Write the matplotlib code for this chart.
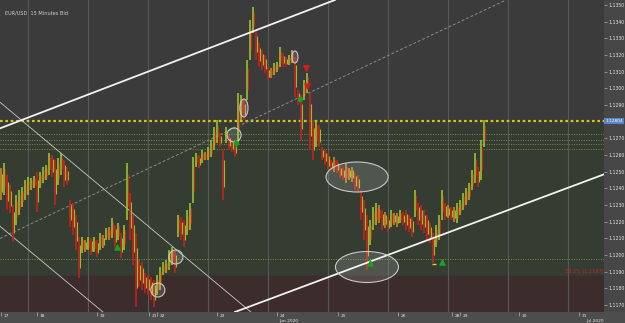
import matplotlib
matplotlib.use("Agg")
import matplotlib.pyplot as plt
import numpy as np
from matplotlib.patches import Ellipse

# bar highs / lows (EUR/USD, 15 min), one entry per plotted bar
highs = [
    1.12522, 1.12552, 1.12480, 1.12420, 1.12300, 1.12360, 1.12390, 1.12408, 1.12450, 1.12468,
    1.12462, 1.12474, 1.12498, 1.12498, 1.12528, 1.12540, 1.12612, 1.12600, 1.12570, 1.12582,
    1.12612, 1.12570, 1.12528, 1.12330, 1.12312, 1.12240, 1.12108, 1.12108, 1.12090, 1.12108,
    1.12102, 1.12108, 1.12090, 1.12132, 1.12120, 1.12162, 1.12168, 1.12222, 1.12180, 1.12192,
    1.12132, 1.12180, 1.12552, 1.12372, 1.12240, 1.12132, 1.11970, 1.11958, 1.11892, 1.11880,
    1.11868, 1.11850, 1.11880, 1.11928, 1.11958, 1.11970, 1.12030, 1.12048, 1.12030, 1.12240,
    1.12228, 1.12210, 1.12270, 1.12312, 1.12588, 1.12612, 1.12600, 1.12630, 1.12618, 1.12648,
    1.12690, 1.12768, 1.12810, 1.12732, 1.12630, 1.12768, 1.12720, 1.12690, 1.12672, 1.12972,
    1.12960, 1.12930, 1.13170, 1.13410, 1.13488, 1.13350, 1.13272, 1.13230, 1.13200, 1.13128,
    1.13122, 1.13152, 1.13158, 1.13248, 1.13212, 1.13188, 1.13200, 1.13230, 1.13188, 1.12990,
    1.12960, 1.13050, 1.13092, 1.12972, 1.12810, 1.12810, 1.12780, 1.12648, 1.12630, 1.12612,
    1.12570, 1.12588, 1.12570, 1.12540, 1.12528, 1.12552, 1.12522, 1.12528, 1.12492, 1.12480,
    1.12390, 1.12330, 1.12240, 1.12210, 1.12288, 1.12312, 1.12300, 1.12270, 1.12258, 1.12228,
    1.12270, 1.12252, 1.12252, 1.12270, 1.12258, 1.12270, 1.12240, 1.12228, 1.12390, 1.12312,
    1.12300, 1.12270, 1.12240, 1.12192, 1.12132, 1.12180, 1.12240, 1.12390, 1.12312, 1.12300,
    1.12288, 1.12288, 1.12312, 1.12330, 1.12372, 1.12402, 1.12432, 1.12510, 1.12612, 1.12528,
    1.12690, 1.12810,
]
lows = [
    1.12330, 1.12360, 1.12270, 1.12252, 1.12078, 1.12180, 1.12240, 1.12288, 1.12330, 1.12360,
    1.12390, 1.12402, 1.12258, 1.12402, 1.12432, 1.12450, 1.12480, 1.12468, 1.12300, 1.12420,
    1.12480, 1.12408, 1.12420, 1.12168, 1.12120, 1.12030, 1.11862, 1.12012, 1.12018, 1.12030,
    1.12000, 1.12018, 1.11988, 1.12030, 1.12042, 1.12090, 1.12090, 1.12102, 1.12048, 1.12090,
    1.11982, 1.12030, 1.12210, 1.12090, 1.11940, 1.11688, 1.11808, 1.11790, 1.11772, 1.11760,
    1.11730, 1.11688, 1.11760, 1.11790, 1.11880, 1.11892, 1.11910, 1.11940, 1.11892, 1.12108,
    1.12090, 1.12048, 1.12120, 1.12150, 1.12312, 1.12528, 1.12522, 1.12552, 1.12570, 1.12570,
    1.12588, 1.12630, 1.12672, 1.12648, 1.12330, 1.12672, 1.12630, 1.12618, 1.12588, 1.12672,
    1.12810, 1.12810, 1.12930, 1.13170, 1.13332, 1.13170, 1.13128, 1.13110, 1.13092, 1.13050,
    1.13062, 1.13080, 1.13098, 1.13128, 1.13128, 1.13128, 1.13140, 1.13152, 1.12948, 1.12900,
    1.12690, 1.12930, 1.12972, 1.12630, 1.12570, 1.12648, 1.12648, 1.12570, 1.12540, 1.12510,
    1.12510, 1.12498, 1.12492, 1.12462, 1.12450, 1.12432, 1.12450, 1.12438, 1.12390, 1.12372,
    1.12210, 1.12090, 1.11910, 1.12060, 1.12150, 1.12180, 1.12192, 1.12150, 1.12162, 1.12138,
    1.12168, 1.12180, 1.12168, 1.12192, 1.12180, 1.12150, 1.12138, 1.12108, 1.12228, 1.12180,
    1.12150, 1.12132, 1.12090, 1.12072, 1.11952, 1.12048, 1.12090, 1.12210, 1.12210, 1.12222,
    1.12210, 1.12198, 1.12192, 1.12240, 1.12270, 1.12300, 1.12330, 1.12390, 1.12432, 1.12408,
    1.12450, 1.12648,
]

price_ticks = [1.1350, 1.1340, 1.1330, 1.1320, 1.1310, 1.1300, 1.1290, 1.1270, 1.1260,
               1.1250, 1.1240, 1.1230, 1.1220, 1.1210, 1.1200, 1.1190, 1.1180, 1.1170]
date_pos = [0, 12, 32, 49.3, 52, 72, 92, 112.3, 132.3, 150.3, 153, 172.7, 192.7]
date_labels = ["17", "18", "19", "21", "22", "23", "24", "25", "26", "28", "29", "30", "31"]
month_pos = [92.7, 195.0]
month_labels = ["Jun 2020", "Jul 2020"]

last_price = 1.12804
fib_lines = [1.12726, 1.12690, 1.12666, 1.12636, 1.11976]
zone_top = 1.1279
fib_382 = 1.11874

# trend lines, each given by two points (bar index, price)
white_lines = [((0, 1.12762), (111.3, 1.1353)), ((78, 1.11658), (201.3, 1.12486))]
channel_lines = [((0, 1.12912), (83.3, 1.11658)), ((0, 1.12168), (34, 1.11658))]
dashed_line = ((0, 1.12102), (116.7, 1.13092))

# highlight ellipses: centre x, centre price, width (bars), height (price)
marks = [
    (52.3, 1.11790, 4.7, 0.00084), (58.3, 1.11988, 4.7, 0.00084),
    (77.7, 1.12720, 4.7, 0.00084), (81.0, 1.12882, 2.7, 0.00108),
    (98.0, 1.13188, 2.0, 0.00072), (118.7, 1.12468, 20.7, 0.00180),
    (122.0, 1.11928, 21.0, 0.00186),
]
up_arrows = [(38.7, 1.12048), (123.0, 1.11952), (147.0, 1.11958)]
down_arrows = [(101.7, 1.13122), (102.0, 1.13014)]
green_dots = [(78.3, 1.12672), (99.7, 1.12936)]

W, H = 625, 323
fig = plt.figure(figsize=(W / 100, H / 100), dpi=100, facecolor="#474747")
# lighter strip under the chart for the date scale
fig.patches.append(plt.Rectangle((0, 0), 1, 11 / H, transform=fig.transFigure,
                                 color="#4d4d4d", zorder=-1))
ax = fig.add_axes([0, 11 / H, 604 / W, 312 / H])
ax.set_facecolor("#3b3b3b")
ax.set_xlim(-0.3, 201.0)
ax.set_ylim(1.11658, 1.1353)

# zones
ax.axhspan(fib_382, zone_top, color="#353d33", zorder=0)
ax.axhspan(1.11, fib_382, color="#3d2c2c", zorder=0)

for gx in np.arange(9, 201, 20):
    ax.axvline(gx, color="#585858", lw=0.8, zorder=1)

# horizontal levels
for lv in fib_lines:
    ax.axhline(lv, color="#7d8a45", lw=0.7, ls=(0, (1, 1.5)), zorder=2)
ax.axhline(last_price, color="#d8c21a", lw=1.6, ls=(0, (1.2, 1.2)), zorder=2)

# trend lines
ax.axline(*dashed_line, color="#8a8a8a", lw=0.7, ls=(0, (3, 2)), zorder=2)
for p1, p2 in channel_lines:
    ax.axline(p1, p2, color="#c8c8c8", lw=0.6, zorder=2)

# bars
x = np.arange(len(highs))
hi = np.array(highs)
lo = np.array(lows)
mid = (hi + lo) / 2
chg = np.diff(mid, prepend=mid[0])
cols = np.where(np.abs(chg) < 0.00008, "#d2862a",
                np.where(chg > 0, "#9cc82c", "#c8231c"))
mid_cols = np.where(chg > 0, "#c8231c", "#a0b82c")
ax.vlines(x, lo, hi, colors=cols, lw=1.15, zorder=3)
ax.vlines(x + 0.45, lo + (hi - lo) * 0.25, hi - (hi - lo) * 0.2, colors=mid_cols, lw=0.8, zorder=3)

for p1, p2 in white_lines:
    ax.axline(p1, p2, color="#f2f2f2", lw=1.3, zorder=4)

for cx, cy, w, h in marks:
    ax.add_patch(Ellipse((cx, cy), w, h, facecolor=(1, 1, 1, 0.13),
                         edgecolor="#c8c8c8", lw=0.8, zorder=5))

ax.scatter(*zip(*up_arrows), marker="^", s=14, color="#1aa01a", zorder=6)
ax.scatter(*zip(*down_arrows), marker="v", s=14, color="#e01818", zorder=6)
ax.scatter(*zip(*green_dots), marker="o", s=8, color="#1aa01a", zorder=6)
ax.plot([144.3], [1.11946], marker="_", ms=3, color="#b8e030", zorder=6)

ax.text(200.8, fib_382 + 0.00012, "38.2% (1.1187)", color="#d42020", fontsize=3.6,
        ha="right", va="bottom", zorder=6)
ax.text(1.5, 1.1345, "EUR/USD  15 Minutes Bid", color="#cfcfcf", fontsize=3.6,
        ha="left", va="center")

# right price axis
ax.yaxis.tick_right()
ax.set_yticks(price_ticks)
ax.set_yticklabels([f"{v:.4f}" for v in price_ticks])
ax.tick_params(axis="y", colors="#9a9a9a", labelcolor="#e6e6e6", labelsize=3.3,
               length=2, width=0.6, pad=1.5)
ax.text(1.002, last_price, f"{last_price:.5f}", transform=ax.get_yaxis_transform(),
        fontsize=3.1, color="white", va="center", ha="left",
        bbox=dict(boxstyle="square,pad=0.25", fc="#5a86c4", ec="none"), clip_on=False)

# bottom date axis: tick marks with the label just to the right of each
ax.set_xticks(date_pos)
ax.tick_params(axis="x", colors="#a0a0a0", length=3, width=0.6, labelbottom=False)
xt = ax.get_xaxis_transform()
for pos, lab in zip(date_pos, date_labels):
    ax.text(pos + 0.8, -0.005, lab, transform=xt, fontsize=3.2, color="#e6e6e6",
            ha="left", va="top", clip_on=False)
for pos, lab in zip(month_pos, month_labels):
    ax.text(pos, -0.022, lab, transform=xt, fontsize=3.2, color="#e6e6e6",
            ha="left", va="top", clip_on=False)

for s in ax.spines.values():
    s.set_visible(False)

fig.savefig("out.png", dpi=100, facecolor=fig.get_facecolor())
